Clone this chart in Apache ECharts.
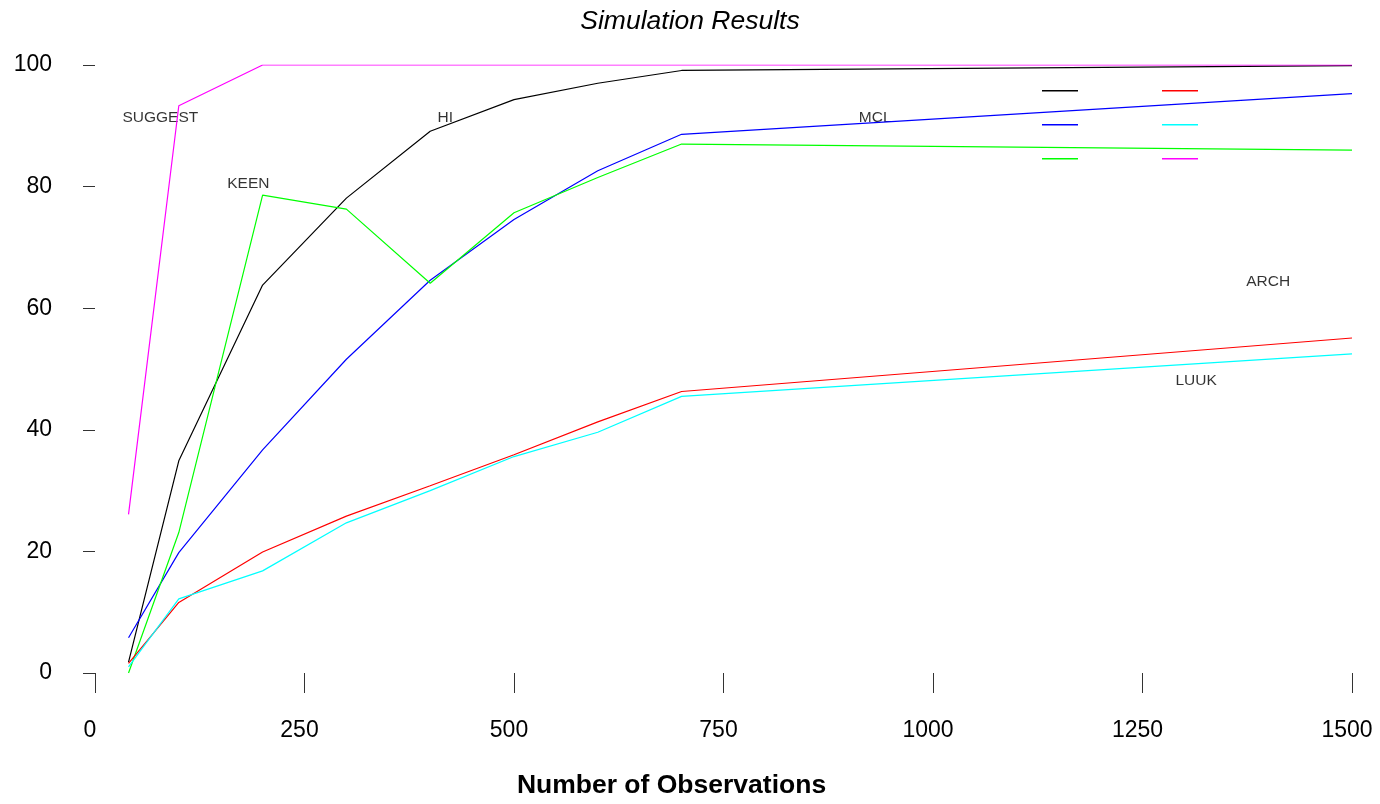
<!DOCTYPE html>
<html>
<head>
<meta charset="utf-8">
<script src="https://cdn.jsdelivr.net/npm/echarts@6/dist/echarts.min.js"></script>
<style>
html, body { margin: 0; padding: 0; background: #fff; }
#chart { width: 1380px; height: 804px; }
</style>
</head>
<body>
<div id="chart"></div>
<script>
// ---- data ----
const observations = [40, 100, 200, 300, 400, 500, 600, 700, 1500];
const seriesNames = ['HI', 'MCL', 'KEEN', 'ARCH', 'LUUK', 'SUGGEST'];
const seriesColors = ['#000000', '#0000ff', '#00ff00', '#ff0000', '#00ffff', '#ff00ff'];
const hiValues      = [1.8, 34.9, 63.8, 78.1, 89.1, 94.3, 97.0, 99.1, 99.9];
const mclValues     = [5.8, 19.8, 36.7, 51.6, 64.6, 74.6, 82.6, 88.6, 95.3];
const keenValues    = [0.0, 23.1, 78.6, 76.3, 64.1, 75.7, 81.5, 87.0, 86.0];
const archValues    = [1.6, 11.6, 19.9, 25.8, 30.8, 35.9, 41.3, 46.3, 55.1];
const luukValues    = [1.0, 12.2, 16.8, 24.7, 30.0, 35.6, 39.6, 45.5, 52.5];
const suggestValues = [26.1, 93.3, 100, 100, 100, 100, 100, 100, 100];
// annotation labels: [x, y, text]
const annotationX = [78, 418, 183, 931, 1400, 1314];
const annotationY = [91.4, 91.4, 80.4, 91.4, 64.3, 48.0];
const annotationText = ['SUGGEST', 'HI', 'KEEN', 'MCL', 'ARCH', 'LUUK'];
const xTicks = [0, 250, 500, 750, 1000, 1250, 1500];
const yTicks = [0, 20, 40, 60, 80, 100];

const allValues = [hiValues, mclValues, keenValues, archValues, luukValues, suggestValues];
const FONT = '"Liberation Sans", Arial, sans-serif';

const lineSeries = seriesNames.map((name, i) => ({
  name: name,
  type: 'line',
  data: observations.map((x, j) => [x, allValues[i][j]]),
  symbol: 'none',
  color: seriesColors[i],
  lineStyle: { width: 1.2, color: seriesColors[i] },
  emphasis: { disabled: true },
  animation: false
}));

const labelSeries = {
  name: 'labels',
  type: 'scatter',
  symbolSize: 0,
  data: annotationText.map((t, i) => [annotationX[i], annotationY[i], t]),
  label: {
    show: true,
    position: 'inside',
    formatter: p => p.value[2],
    color: '#000',
    textBorderWidth: 0,
    fontSize: 15.5,
    fontFamily: FONT
  },
  silent: true,
  animation: false
};

const legendCommon = {
  orient: 'vertical',
  icon: 'rect',
  itemWidth: 36,
  itemHeight: 1.5,
  itemGap: 32.5,
  formatter: () => '',
  selectedMode: false,
  textStyle: { fontSize: 1 }
};

const chart = echarts.init(document.getElementById('chart'), null, { renderer: 'canvas' });
chart.setOption({
  backgroundColor: '#ffffff',
  animation: false,
  title: {
    text: 'Simulation Results',
    left: 'center',
    top: 3,
    textStyle: { fontFamily: FONT, fontSize: 26.5, fontStyle: 'italic', fontWeight: 'normal', color: '#000' }
  },
  legend: [
    Object.assign({ data: seriesNames.slice(0, 3), left: 1037, top: 85 }, legendCommon),
    Object.assign({ data: seriesNames.slice(3, 6), left: 1157, top: 85 }, legendCommon)
  ],
  grid: { left: 95, right: 28, top: 65, bottom: 126, containLabel: false },
  xAxis: {
    type: 'value',
    min: xTicks[0],
    max: xTicks[xTicks.length - 1],
    interval: xTicks[1] - xTicks[0],
    name: 'Number of Observations',
    nameLocation: 'middle',
    nameGap: 99,
    nameTextStyle: { fontFamily: FONT, fontSize: 26.5, fontWeight: 'bold', color: '#000', padding: [0, 104, 0, 0] },
    axisLine: { show: false },
    axisTick: { show: true, length: 20, lineStyle: { color: '#333', width: 1 } },
    splitLine: { show: false },
    axisLabel: { fontFamily: FONT, fontSize: 23, color: '#000', margin: 46, padding: [0, 10, 0, 0], formatter: v => String(v) }
  },
  yAxis: {
    type: 'value',
    min: yTicks[0],
    max: yTicks[yTicks.length - 1],
    interval: yTicks[1] - yTicks[0],
    axisLine: { show: false },
    axisTick: { show: true, length: 12, lineStyle: { color: '#333', width: 1 } },
    splitLine: { show: false },
    axisLabel: { fontFamily: FONT, fontSize: 23, color: '#000', margin: 43, padding: [0, 0, 8, 0], formatter: v => String(v) }
  },
  series: lineSeries.concat([labelSeries])
});
</script>
</body>
</html>
